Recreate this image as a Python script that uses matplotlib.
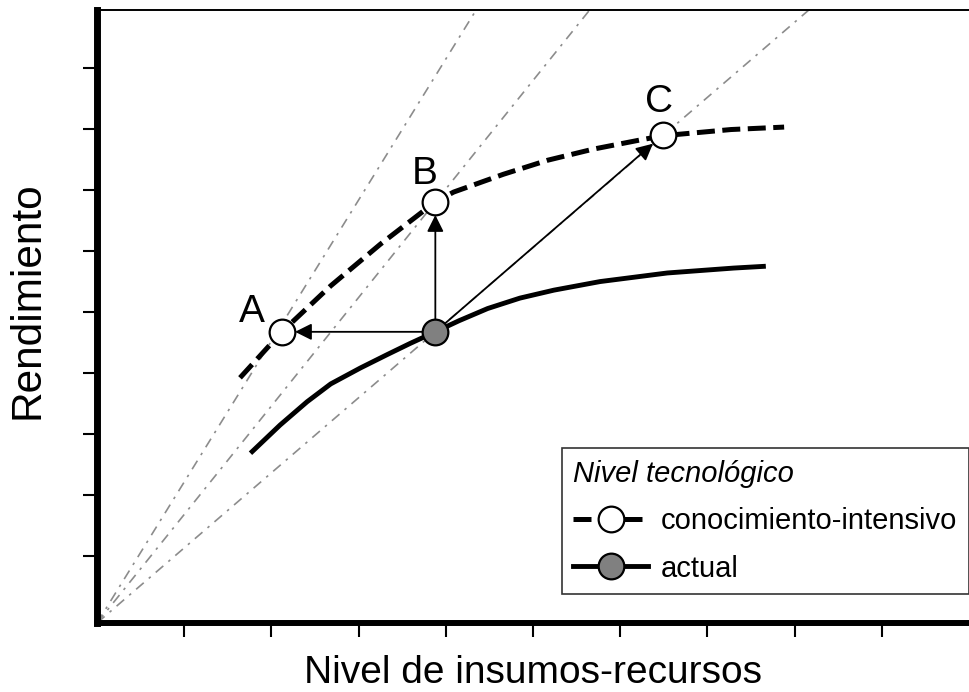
import matplotlib.pyplot as plt
import numpy as np
from matplotlib.lines import Line2D

plt.rcParams['font.family'] = ['Liberation Sans', 'DejaVu Sans']

# curva con nivel tecnologico conocimiento-intensivo
ki_x = [1.64, 2.12, 2.68, 3.25, 3.88, 4.09, 4.66, 5.17, 5.69, 6.23, 6.50, 7.27, 7.88]
ki_y = [4.00, 4.75, 5.50, 6.18, 6.87, 7.03, 7.32, 7.55, 7.73, 7.88, 7.95, 8.05, 8.09]

# curva con nivel tecnologico actual
act_x = [1.76, 2.10, 2.41, 2.68, 3.02, 3.33, 3.59, 3.88, 4.15, 4.48, 4.85, 5.24, 5.77, 6.54, 7.30, 7.67]
act_y = [2.77, 3.23, 3.61, 3.90, 4.16, 4.38, 4.56, 4.75, 4.93, 5.13, 5.30, 5.43, 5.57, 5.71, 5.79, 5.82]

# puntos A, B, C y punto actual
pt_names = ['A', 'B', 'C']
pt_x = [2.12, 3.88, 6.49]
pt_y = [4.75, 6.87, 7.96]
cur_x, cur_y = 3.88, 4.75

# pendientes de las rectas de eficiencia desde el origen
ray_slopes = [2.30, 1.77, 1.225]

fig = plt.figure(figsize=(9.69, 6.92), dpi=100)
ax = fig.add_axes([97 / 969, 69 / 692, 872 / 969, 613 / 692])
ax.set_xlim(0, 10)
ax.set_ylim(0, 10)

for s in ray_slopes:
    ax.plot([0, 10], [0, 10 * s], color='#8c8c8c', lw=1.2,
            linestyle=(0, (6, 4, 1.5, 4)), zorder=1)

ax.plot(act_x, act_y, color='black', lw=3.5, solid_capstyle='butt',
        solid_joinstyle='round', zorder=2)
ax.plot(ki_x, ki_y, color='black', lw=3.6, dashes=(3.6, 1.5), zorder=2)

# flechas desde el punto actual
for x, y in zip(pt_x, pt_y):
    ax.annotate('', xy=(x, y), xytext=(cur_x, cur_y),
                arrowprops=dict(arrowstyle='-|>', mutation_scale=25, lw=1.3,
                                color='black', shrinkA=0, shrinkB=9.5),
                zorder=3)

ax.plot(pt_x, pt_y, 'o', ms=18.5, mfc='white', mec='black', mew=1.6, zorder=4)
ax.plot([cur_x], [cur_y], 'o', ms=18.5, mfc='#808080', mec='black', mew=1.6, zorder=4)

offsets = [(-21.6, 14.0), (-7.5, 20.0), (-3, 23.5)]
for name, x, y, off in zip(pt_names, pt_x, pt_y, offsets):
    ax.annotate(name, xy=(x, y), xytext=off, textcoords='offset points',
                ha='center', va='center', fontsize=28)

# ejes
ax.spines['right'].set_visible(False)
ax.spines['left'].set_linewidth(5)
ax.spines['bottom'].set_linewidth(4.3)
ax.spines['top'].set_linewidth(1.4)
ax.set_xticks(range(1, 10))
ax.set_yticks(np.linspace(1.09, 9.05, 9))
ax.tick_params(direction='out', length=10, width=1.5, labelbottom=False, labelleft=False)

fig.text(533 / 969, 1 - 673 / 692, 'Nivel de insumos-recursos', ha='center', va='center', fontsize=28)
fig.text(28 / 969, 1 - 300 / 692, 'Rendimiento', ha='center', va='center', fontsize=30.5, rotation=90)

# leyenda
h_ki = Line2D([], [], color='black', lw=3.6, dashes=(3.6, 1.5), marker='o', ms=18.5,
              mfc='white', mec='black', mew=1.6)
h_act = Line2D([], [], color='black', lw=3.5, marker='o', ms=18.5,
               mfc='#808080', mec='black', mew=1.6)
leg = ax.legend([h_ki, h_act], ['conocimiento-intensivo', 'actual'],
                title='Nivel tecnológico', loc='lower right', bbox_to_anchor=(1.0, 0.047),
                fontsize=21, title_fontproperties={'size': 21, 'style': 'italic'},
                fancybox=False, framealpha=1, edgecolor='#333333',
                handlelength=2.55, handletextpad=0.45, borderpad=0.4, labelspacing=0.66,
                alignment='left', borderaxespad=0)
leg.get_frame().set_linewidth(1.2)

fig.savefig('out.png', dpi=100)
